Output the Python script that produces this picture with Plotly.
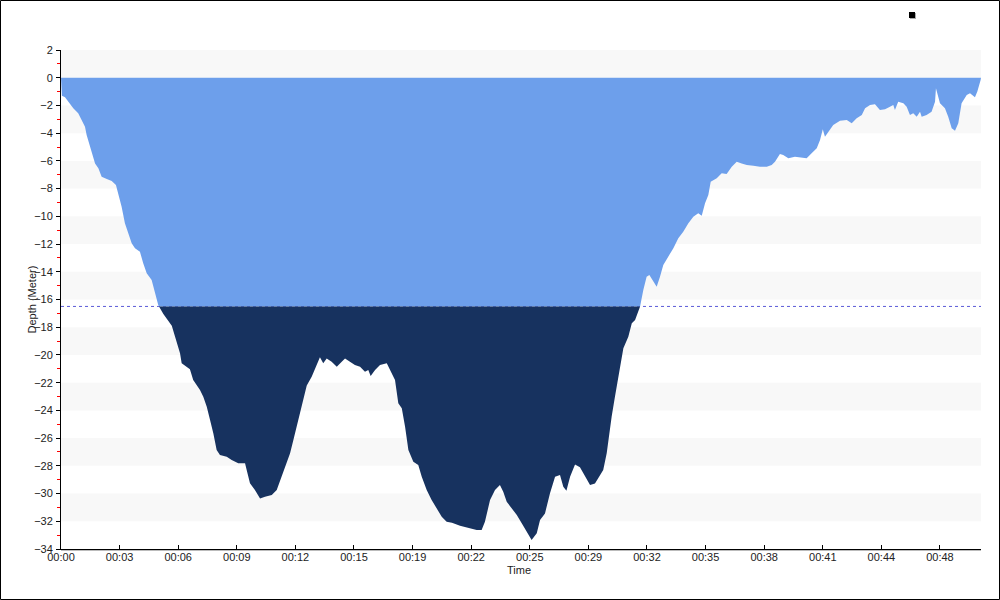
import plotly.graph_objects as go

# ---- data (time in minutes, depth in metres) ----
time_min = [0, 0.05, 0.22, 0.40, 0.67, 0.94, 1.13, 1.31, 1.40, 1.55, 1.68, 1.86, 2.04, 2.22, 2.50, 2.77,
            3.00, 3.13, 3.31, 3.49, 3.68, 3.86, 4.04, 4.31, 4.49, 4.68, 4.95, 5.13, 5.31, 5.59, 5.86,
            6.05, 6.23, 6.50, 6.59, 7.04, 7.22, 7.59, 7.77, 7.96, 8.14, 8.32, 8.50, 8.68, 9.05, 9.32,
            9.68, 10.05, 10.14, 10.32, 10.59, 10.87, 11.14, 11.51, 11.78, 12.05, 12.33, 12.51, 12.69,
            12.87, 13.05, 13.23, 13.42, 13.69, 13.96, 14.14, 14.32, 14.51, 14.78, 15.06, 15.33, 15.51,
            15.78, 16.05, 16.33, 16.60, 16.78, 16.91, 17.15, 17.42, 17.79, 17.97, 18.24, 18.42, 18.61,
            18.79, 18.97, 19.24, 19.51, 19.70, 19.97, 20.24, 20.52, 20.79, 21.06, 21.35, 21.79, 22.33,
            22.70, 22.97, 23.15, 23.43, 23.70, 23.97, 24.15, 24.34, 24.61, 24.89, 25.16, 25.43, 25.70,
            25.98, 26.16, 26.43, 26.70, 26.98, 27.25, 27.43, 27.60, 27.80, 28.07, 28.34, 28.61, 28.89,
            29.16, 29.43, 29.61, 29.80, 29.89, 30.07, 30.25, 30.43, 30.62, 30.71, 30.98, 31.17, 31.35,
            31.62, 31.80, 31.98, 32.13, 32.31, 32.53, 32.71, 32.89, 33.16, 33.44, 33.71, 33.98, 34.26,
            34.53, 34.80, 34.99, 35.17, 35.35, 35.48, 35.81, 36.08, 36.35, 36.63, 36.90, 37.17, 37.45,
            37.81, 38.17, 38.54, 38.81, 38.99, 39.26, 39.44, 39.72, 40.08, 40.45, 40.72, 40.99, 41.27,
            41.45, 41.60, 41.72, 41.90, 42.17, 42.54, 42.91, 43.18, 43.45, 43.73, 43.91, 44.18, 44.45,
            44.72, 45.00, 45.27, 45.45, 45.54, 45.72, 46.00, 46.18, 46.36, 46.54, 46.73, 46.91, 47.00,
            47.27, 47.54, 47.73, 47.78, 47.85, 48.00, 48.27, 48.45, 48.64, 48.82, 49.00, 49.18, 49.46,
            49.64, 49.91, 50.04, 50.22, 50.24]
depth_m = [0, -1.30, -1.41, -1.73, -2.21, -2.57, -3.05, -3.53, -4.13, -4.85, -5.45, -6.18, -6.54, -7.14,
           -7.31, -7.45, -7.74, -8.34, -9.31, -10.50, -11.23, -11.95, -12.31, -12.55, -13.39, -14.11,
           -14.59, -15.55, -16.40, -17.05, -17.50, -17.90, -18.69, -19.88, -20.60, -21.04, -21.81,
           -22.53, -23.01, -23.74, -24.70, -25.66, -26.86, -27.22, -27.34, -27.58, -27.82, -27.82,
           -28.30, -29.26, -29.75, -30.35, -30.23, -30.11, -29.75, -28.79, -27.82, -27.10, -26.14,
           -25.18, -24.21, -23.10, -22.20, -21.57, -20.73, -20.17, -20.60, -20.25, -20.49, -20.85,
           -20.49, -20.25, -20.49, -20.73, -20.85, -21.21, -21.09, -21.52, -21.09, -20.73, -20.60,
           -21.09, -21.81, -23.49, -23.85, -25.18, -26.86, -27.70, -27.94, -28.79, -29.75, -30.47,
           -31.07, -31.67, -32.03, -32.10, -32.32, -32.50, -32.63, -32.63, -32.03, -30.47, -29.75,
           -29.39, -29.87, -30.59, -31.07, -31.55, -32.15, -32.75, -33.35, -32.87, -31.91, -31.43,
           -29.99, -28.79, -28.66, -29.51, -29.80, -28.79, -27.90, -28.10, -28.79, -29.39, -29.27,
           -28.66, -28.30, -27.10, -26.14, -24.46, -23.01, -21.57, -20.37, -19.52, -18.69, -17.72,
           -17.48, -16.52, -15.32, -14.35, -14.23, -14.59, -15.08, -14.35, -13.51, -12.91, -12.31,
           -11.59, -11.11, -10.50, -10.03, -9.78, -9.95, -9.06, -8.46, -7.50, -7.26, -6.90, -6.95,
           -6.42, -6.06, -6.18, -6.30, -6.35, -6.42, -6.42, -6.30, -6.06, -5.50, -5.58, -5.81, -5.70,
           -5.74, -5.81, -5.45, -5.09, -4.49, -3.72, -4.25, -3.89, -3.41, -3.10, -3.05, -3.29, -2.93,
           -2.69, -2.21, -1.97, -1.92, -2.33, -2.28, -2.09, -1.97, -2.33, -1.73, -1.85, -2.09, -2.69,
           -2.57, -2.81, -2.45, -2.81, -2.69, -2.45, -1.73, -0.76, -1.12, -1.85, -2.21, -2.81, -3.65,
           -3.82, -3.29, -1.85, -1.25, -1.12, -1.41, -1.00, -0.17, 0]

threshold = -16.5
tick_labels = ["00:00", "00:03", "00:06", "00:09", "00:12", "00:15", "00:19", "00:22", "00:25",
               "00:29", "00:32", "00:35", "00:38", "00:41", "00:44", "00:48"]
tick_step = 3.2
x_max = 50.24

LIGHT = "#6d9feb"
NAVY = "#17325f"

# insert exact threshold crossings so the two colour fills meet cleanly
xs, ys = [time_min[0]], [depth_m[0]]
for i in range(1, len(time_min)):
    x0, y0, x1, y1 = time_min[i - 1], depth_m[i - 1], time_min[i], depth_m[i]
    if (y0 - threshold) * (y1 - threshold) < 0:
        f = (threshold - y0) / (y1 - y0)
        xs.append(x0 + f * (x1 - x0))
        ys.append(threshold)
    xs.append(x1)
    ys.append(y1)
y_light = [max(v, threshold) for v in ys]
y_navy = [min(v, threshold) for v in ys]

fig = go.Figure()
fig.add_trace(go.Scatter(x=xs, y=y_light, mode="lines", line=dict(width=0, color=LIGHT),
                         fill="tozeroy", fillcolor=LIGHT, hoverinfo="skip", showlegend=False))
fig.add_trace(go.Scatter(x=xs, y=[threshold] * len(xs), mode="lines", line=dict(width=0),
                         hoverinfo="skip", showlegend=False))
fig.add_trace(go.Scatter(x=xs, y=y_navy, mode="lines", line=dict(width=0, color=NAVY),
                         fill="tonexty", fillcolor=NAVY, hoverinfo="skip", showlegend=False))

L, R, T, B = 61, 19, 50, 51
W, H = 1000, 600
pw, ph = W - L - R, H - T - B


def px(xp):
    return (xp - L) / pw


def py(yp):
    return (H - B - yp) / ph


shapes = []
# alternating background bands
for top in range(2, -34, -4):
    shapes.append(dict(type="rect", xref="paper", yref="y", x0=0, x1=1, y0=top - 2, y1=top,
                       fillcolor="#f8f8f8", line=dict(width=0), layer="below"))
# dashed reference line
shapes.append(dict(type="line", xref="paper", yref="y", x0=0, x1=1, y0=threshold, y1=threshold,
                   line=dict(color="#5a5ad8", width=1, dash="dot"), layer="below"))
# x-axis shadow
shapes.append(dict(type="line", xref="paper", yref="paper", x0=0, x1=1, y0=py(550.5), y1=py(550.5),
                   line=dict(color="#bbbbbb", width=1)))
# outer border
shapes.append(dict(type="rect", xref="paper", yref="paper", x0=px(0.5), x1=px(999.5),
                   y0=py(599.5), y1=py(0.5), line=dict(color="black", width=1)))
# small legend marker with shadow
shapes.append(dict(type="rect", xref="paper", yref="paper", x0=px(910), x1=px(916),
                   y0=py(19), y1=py(13), fillcolor="#aaaaaa", line=dict(width=0)))
shapes.append(dict(type="rect", xref="paper", yref="paper", x0=px(909), x1=px(915),
                   y0=py(18), y1=py(12), fillcolor="black", line=dict(width=0)))

font = dict(family="Liberation Sans, Arial, sans-serif", size=11, color="#222222")

fig.update_layout(
    width=W, height=H,
    margin=dict(l=L, r=R, t=T, b=B),
    paper_bgcolor="white", plot_bgcolor="white",
    font=font,
    shapes=shapes,
    xaxis=dict(range=[0, x_max], tickvals=[i * tick_step for i in range(len(tick_labels))],
               ticktext=tick_labels, ticks="inside", ticklen=4, tickcolor="black",
               showline=True, linecolor="black", linewidth=1, showgrid=False, zeroline=False,
               tickfont=font, ticklabelstandoff=-2, fixedrange=True),
    yaxis=dict(range=[-34, 2], tick0=0, dtick=2, ticks="outside", ticklen=4, tickcolor="black",
               showline=True, linecolor="black", linewidth=1, showgrid=False, zeroline=False,
               tickfont=font, ticklabelstandoff=1,
               minor=dict(tick0=1, dtick=2, ticks="outside", ticklen=3, tickcolor="red"),
               fixedrange=True),
    annotations=[
        dict(text="Depth (Meter)", xref="paper", yref="paper", x=px(31), y=0.5, showarrow=False,
             textangle=-90, font=font, xanchor="center", yanchor="middle"),
        dict(text="Time", xref="paper", yref="paper", x=px(519), y=py(570), showarrow=False,
             font=font, xanchor="center", yanchor="middle"),
    ],
)

fig.write_html("out.html", config={"displayModeBar": False},
               post_script="document.body.style.margin='0px';")
